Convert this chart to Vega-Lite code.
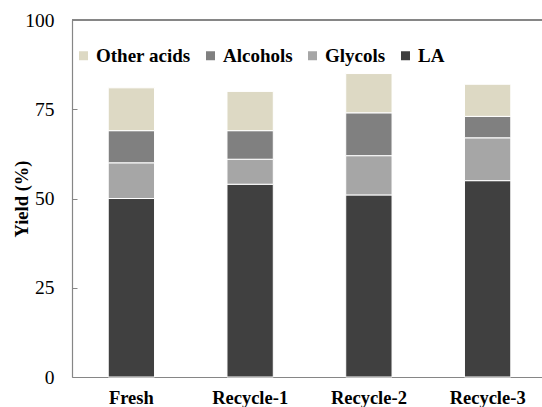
{
  "$schema": "https://vega.github.io/schema/vega-lite/v6.json",
  "width": 470,
  "height": 357,
  "autosize": {"type": "none"},
  "padding": {"left": 72, "top": 20, "right": 0, "bottom": 30},
  "background": "white",
  "config": {
    "view": {"stroke": null},
    "font": "Liberation Serif, Times New Roman, DejaVu Serif, serif"
  },
  "data": {
    "values": [
      {"sample": "Fresh", "component": "LA", "yield": 50},
      {"sample": "Fresh", "component": "Glycols", "yield": 10},
      {"sample": "Fresh", "component": "Alcohols", "yield": 9},
      {"sample": "Fresh", "component": "Other acids", "yield": 12},
      {"sample": "Recycle-1", "component": "LA", "yield": 54},
      {"sample": "Recycle-1", "component": "Glycols", "yield": 7},
      {"sample": "Recycle-1", "component": "Alcohols", "yield": 8},
      {"sample": "Recycle-1", "component": "Other acids", "yield": 11},
      {"sample": "Recycle-2", "component": "LA", "yield": 51},
      {"sample": "Recycle-2", "component": "Glycols", "yield": 11},
      {"sample": "Recycle-2", "component": "Alcohols", "yield": 12},
      {"sample": "Recycle-2", "component": "Other acids", "yield": 11},
      {"sample": "Recycle-3", "component": "LA", "yield": 55},
      {"sample": "Recycle-3", "component": "Glycols", "yield": 12},
      {"sample": "Recycle-3", "component": "Alcohols", "yield": 6},
      {"sample": "Recycle-3", "component": "Other acids", "yield": 9}
    ]
  },
  "layer": [
    {
      "transform": [
        {"calculate": "indexof(['LA', 'Glycols', 'Alcohols', 'Other acids'], datum.component)", "as": "stackRank"}
      ],
      "mark": {"type": "bar", "stroke": "white", "strokeWidth": 1},
      "encoding": {
        "x": {
          "field": "sample",
          "type": "nominal",
          "sort": ["Fresh", "Recycle-1", "Recycle-2", "Recycle-3"],
          "scale": {"range": [0, 475], "paddingInner": 0.61, "paddingOuter": 0.305},
          "axis": {
            "title": null,
            "labelAngle": 0,
            "ticks": false,
            "labelPadding": 11,
            "labelFontWeight": "bold",
            "labelFontSize": 18.5,
            "labelColor": "black",
            "domainColor": "#868686",
            "domainWidth": 1.2
          }
        },
        "y": {
          "field": "yield",
          "type": "quantitative",
          "stack": "zero",
          "scale": {"domain": [0, 100], "nice": false},
          "axis": {
            "title": "Yield (%)",
            "values": [0, 25, 50, 75, 100],
            "grid": false,
            "tickSize": -5,
            "tickColor": "#868686",
            "labelPadding": 23,
            "labelFontSize": 19.5,
            "labelColor": "black",
            "domainColor": "#868686",
            "domainWidth": 1.2,
            "titleFontSize": 18.5,
            "titleFontWeight": "bold",
            "titleColor": "black",
            "titleX": -51,
            "titleY": 178.5,
            "titleAngle": 270,
            "titleAlign": "center",
            "titleBaseline": "middle"
          }
        },
        "order": {"field": "stackRank", "type": "quantitative", "sort": "ascending"},
        "color": {
          "field": "component",
          "type": "nominal",
          "sort": ["Other acids", "Alcohols", "Glycols", "LA"],
          "scale": {
            "domain": ["Other acids", "Alcohols", "Glycols", "LA"],
            "range": ["#ddd9c4", "#808080", "#a6a6a6", "#404040"]
          },
          "legend": {
            "title": null,
            "orient": "none",
            "direction": "horizontal",
            "columns": 4,
            "legendX": 2,
            "legendY": 26,
            "padding": 0,
            "symbolType": "square",
            "symbolSize": 81,
            "symbolStrokeWidth": 0,
            "labelOffset": 3,
            "columnPadding": 10,
            "labelFontSize": 19,
            "labelFontWeight": "bold",
            "labelColor": "black"
          }
        }
      }
    },
    {
      "mark": {"type": "rule", "color": "#868686", "strokeWidth": 1.2},
      "encoding": {"y": {"datum": 100}}
    }
  ]
}
